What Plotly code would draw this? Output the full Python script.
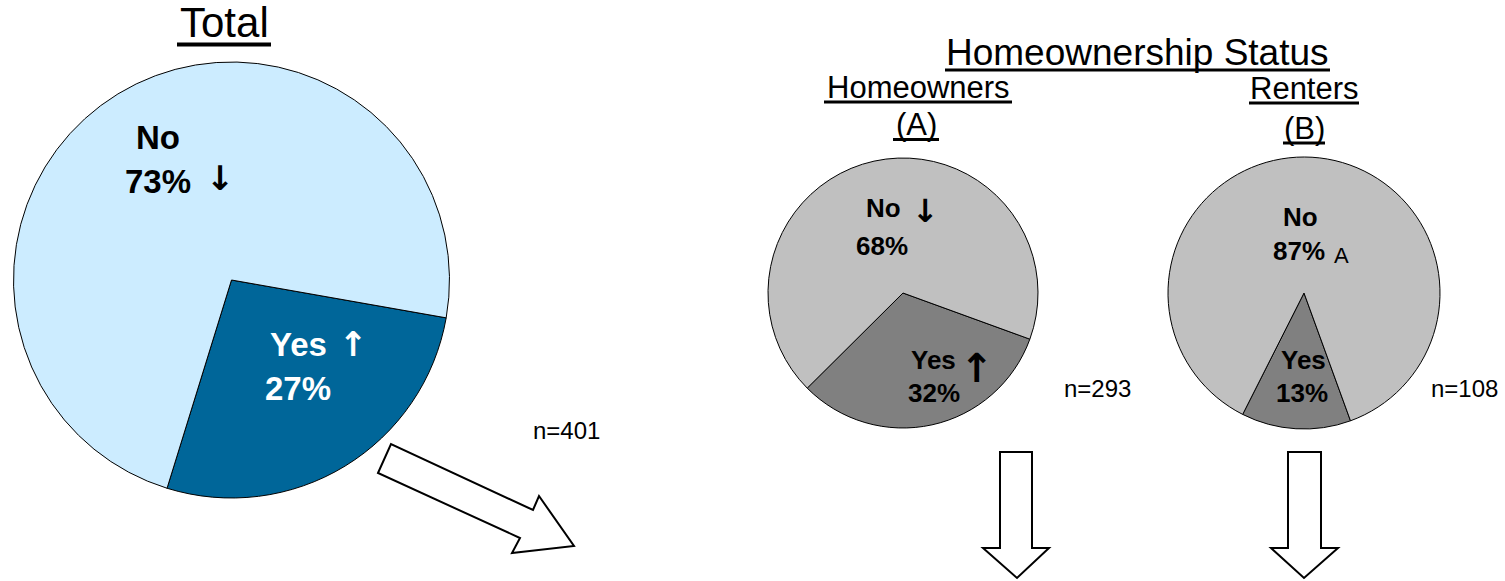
import plotly.graph_objects as go

# ---------------- data ----------------
groups = ["Total", "Homeowners", "Renters"]
answers = ["Yes", "No"]
yes_pct = [27, 32, 13]
no_pct = [73, 68, 87]
n_sizes = [401, 293, 108]
yes_sig = ["↑", "↑", ""]
no_sig = ["↓", "↓", "A"]
main_title = "Total"
section_title = "Homeownership Status"
sub_titles = ["Homeowners", "Renters"]
sub_letters = ["(A)", "(B)"]

# ---------------- canvas ----------------
W, H = 1505, 581
FONT = "Liberation Sans, Arial, sans-serif"
ARROW_FONT = "DejaVu Sans, Liberation Sans, sans-serif"


def fx(x):
    return x / W


def fy(y):
    return 1 - y / H


# pie geometry (pixel centres / radii) and start angle of the "Yes" slice
pie_geo = [
    dict(cx=231.5, cy=280, r=218, rot=100, colors=["#006699", "#CCECFF"]),
    dict(cx=903, cy=293, r=135, rot=110, colors=["#808080", "#C0C0C0"]),
    dict(cx=1304, cy=293, r=136, rot=160, colors=["#808080", "#C0C0C0"]),
]

fig = go.Figure()
for i, g in enumerate(pie_geo):
    fig.add_trace(go.Pie(
        labels=answers,
        values=[yes_pct[i], no_pct[i]],
        sort=False,
        direction="clockwise",
        rotation=g["rot"],
        marker=dict(colors=g["colors"], line=dict(color="#000000", width=1)),
        textinfo="none",
        hoverinfo="skip",
        showlegend=False,
        domain=dict(x=[fx(g["cx"] - g["r"]), fx(g["cx"] + g["r"])],
                    y=[fy(g["cy"] + g["r"]), fy(g["cy"] - g["r"])]),
        name=groups[i],
    ))

annotations = []


def txt(text, x, y, size, color="#000000", bold=False, family=FONT):
    t = f"<b>{text}</b>" if bold else text
    annotations.append(dict(
        text=t, x=fx(x), y=fy(y), xref="paper", yref="paper",
        xanchor="center", yanchor="middle", showarrow=False,
        font=dict(family=family, size=size, color=color),
    ))


def base(baseline, size):
    # convert a text baseline (px) into the annotation's middle (px)
    return baseline - 0.347 * size


# titles
txt(main_title, 224, base(37, 42), 42)
txt(section_title, 1137.5, base(65, 37), 37)
txt(sub_titles[0], 918, base(98, 31), 31)
txt(sub_letters[0], 916, base(135, 31), 31)
txt(sub_titles[1], 1304, base(99, 31), 31)
txt(sub_letters[1], 1304, base(139, 31), 31)

# Total pie labels
txt(answers[1], 158, base(149, 33), 33, bold=True)
txt(f"{no_pct[0]}%", 157.5, base(193, 33), 33, bold=True)
txt(no_sig[0], 220, 178, 34, bold=True, family=ARROW_FONT)
txt(answers[0], 298, base(356, 33), 33, color="#FFFFFF", bold=True)
txt(yes_sig[0], 353, 344, 34, color="#FFFFFF", bold=True, family=ARROW_FONT)
txt(f"{yes_pct[0]}%", 297.5, base(400, 33), 33, color="#FFFFFF", bold=True)
txt(f"n={n_sizes[0]}", 566, base(439, 24), 24)

# Homeowners pie labels
txt(answers[1], 883, base(217, 26), 26, bold=True)
txt(no_sig[1], 925, 211, 32, bold=True, family=ARROW_FONT)
txt(f"{no_pct[1]}%", 882, base(255, 26), 26, bold=True)
txt(answers[0], 933, base(369, 26), 26, bold=True)
txt(yes_sig[1], 977, 368, 40, bold=True, family=ARROW_FONT)
txt(f"{yes_pct[1]}%", 934, base(402, 26), 26, bold=True)
txt(f"n={n_sizes[1]}", 1097, base(397, 24), 24)

# Renters pie labels
txt(answers[1], 1300, base(226, 26), 26, bold=True)
txt(f"{no_pct[2]}%", 1299, base(260, 26), 26, bold=True)
txt(no_sig[2], 1341, base(263, 22), 22)
txt(answers[0], 1303, base(369, 26), 26, bold=True)
txt(f"{yes_pct[2]}%", 1302, base(402, 26), 26, bold=True)
txt(f"n={n_sizes[2]}", 1464, base(397, 24), 24)

# ---------------- decorative shapes ----------------
shapes = []


def hline(x0, x1, y, w):
    shapes.append(dict(type="line", xref="paper", yref="paper",
                       x0=fx(x0), x1=fx(x1), y0=fy(y), y1=fy(y),
                       line=dict(color="#000000", width=w)))


# underlines
hline(177, 271, 44.5, 4)
hline(945, 1330, 70, 3)
hline(824, 1012, 102, 3)
hline(893, 939, 139.5, 3)
hline(1249, 1359, 103, 3)
hline(1283, 1325, 143, 3)


def poly(points):
    p = "M " + " L ".join(f"{fx(x):.5f},{fy(y):.5f}" for x, y in points) + " Z"
    shapes.append(dict(type="path", xref="paper", yref="paper", path=p,
                       fillcolor="#FFFFFF", line=dict(color="#000000", width=2)))


# block arrows
poly([(378, 473), (391, 444), (533, 510), (539, 496), (574, 546), (512, 553), (520, 538)])
poly([(1000, 452), (1032, 452), (1032, 548), (1049, 548), (1017, 578), (983, 548), (1000, 548)])
poly([(1288, 452), (1321, 452), (1321, 548), (1338, 548), (1304, 578), (1271, 548), (1288, 548)])

fig.update_layout(
    width=W, height=H,
    margin=dict(l=0, r=0, t=0, b=0),
    paper_bgcolor="#FFFFFF",
    plot_bgcolor="#FFFFFF",
    showlegend=False,
    annotations=annotations,
    shapes=shapes,
)

fig.write_html(
    "out.html",
    config={"displayModeBar": False},
    post_script="document.body.style.margin='0';document.body.style.overflow='hidden';",
)
